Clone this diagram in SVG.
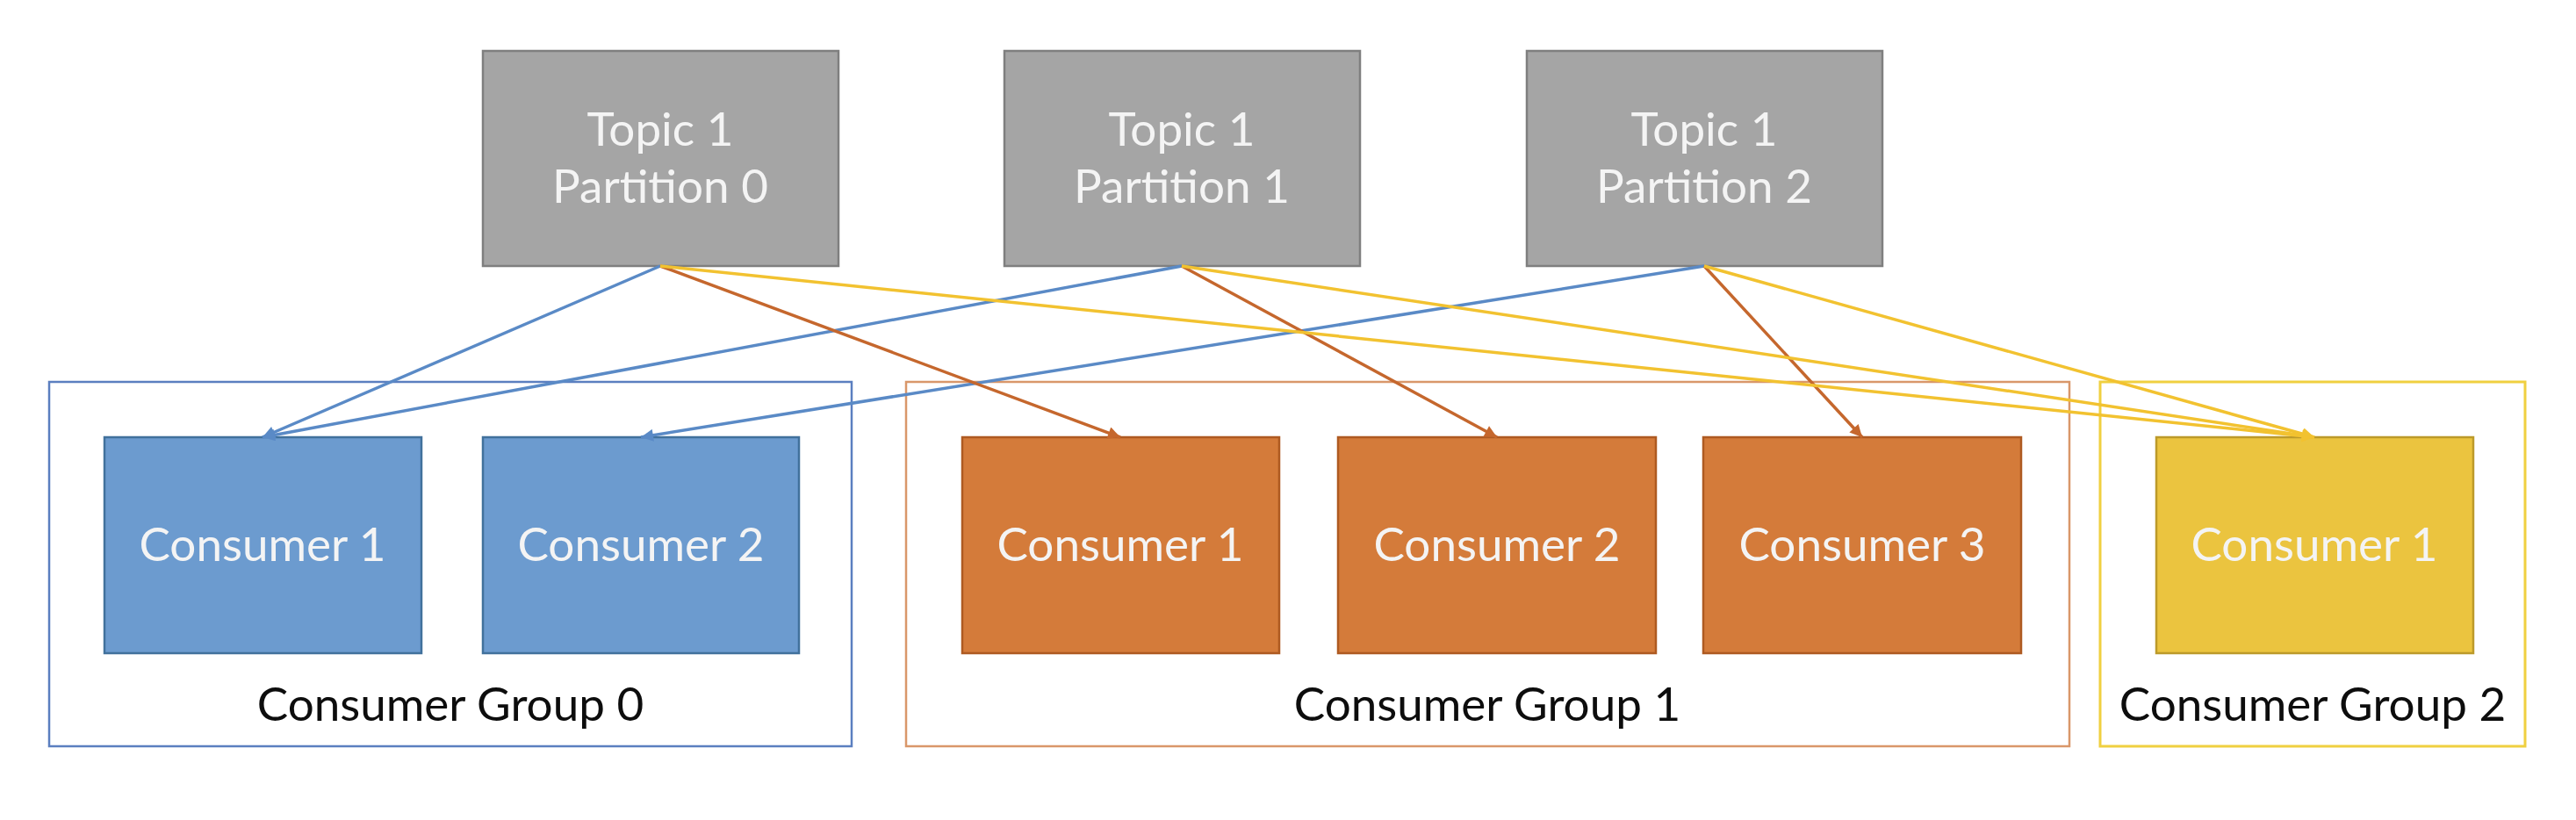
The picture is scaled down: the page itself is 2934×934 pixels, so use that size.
<svg xmlns="http://www.w3.org/2000/svg" width="2934" height="934" viewBox="0 0 2934 934">
  <style>
    .txt { font-family: Lato, "Open Sans", "Liberation Sans", sans-serif; font-size: 53px; text-anchor: middle; }
    .light { fill: #F4F4F4; }
    .dark { fill: #0D0D0D; }
    .topic { fill: #A5A5A5; stroke: #7F7F7F; stroke-width: 2.5; }
    .blue { fill: #6C9BCF; stroke: #41719C; stroke-width: 2.5; }
    .orange { fill: #D47B3A; stroke: #AE5A21; stroke-width: 2.5; }
    .yellow { fill: #EBC43F; stroke: #BC9A2A; stroke-width: 2.5; }
    .g0 { fill: none; stroke: #5B7FC0; stroke-width: 2.5; }
    .g1 { fill: none; stroke: #D9976A; stroke-width: 2.5; }
    .g2 { fill: none; stroke: #F0D040; stroke-width: 3; }
    .lb { stroke: #5A8AC6; stroke-width: 3.5; fill: none; }
    .lo { stroke: #C5672D; stroke-width: 3.5; fill: none; }
    .ly { stroke: #F2C230; stroke-width: 3.5; fill: none; }
  </style>
  <defs>
    <marker id="ab" viewBox="0 0 10 10" refX="10" refY="5" markerUnits="userSpaceOnUse" markerWidth="18" markerHeight="14" orient="auto"><path d="M0,0 L10,5 L0,10 z" fill="#5A8AC6"/></marker>
    <marker id="ao" viewBox="0 0 10 10" refX="10" refY="5" markerUnits="userSpaceOnUse" markerWidth="18" markerHeight="14" orient="auto"><path d="M0,0 L10,5 L0,10 z" fill="#C5672D"/></marker>
    <marker id="ay" viewBox="0 0 10 10" refX="10" refY="5" markerUnits="userSpaceOnUse" markerWidth="18" markerHeight="14" orient="auto"><path d="M0,0 L10,5 L0,10 z" fill="#F2C230"/></marker>
  </defs>
  <rect width="2934" height="934" fill="#FFFFFF"/>

  <g id="group0">
    <rect class="g0" x="56" y="435" width="914" height="415"/>
    <text class="txt dark" x="513" y="821">Consumer Group 0</text>
  </g>
  <g id="group1">
    <rect class="g1" x="1032" y="435" width="1325" height="415"/>
    <text class="txt dark" x="1694" y="821">Consumer Group 1</text>
  </g>
  <g id="group2">
    <rect class="g2" x="2392" y="435" width="484" height="415"/>
    <text class="txt dark" x="2634" y="821">Consumer Group 2</text>
  </g>

  <g id="p0">
    <rect class="topic" x="550" y="58" width="405" height="245"/>
    <text class="txt light" x="752" y="166">Topic 1</text>
    <text class="txt light" x="752" y="231">Partition 0</text>
  </g>
  <g id="p1">
    <rect class="topic" x="1144" y="58" width="405" height="245"/>
    <text class="txt light" x="1346" y="166">Topic 1</text>
    <text class="txt light" x="1346" y="231">Partition 1</text>
  </g>
  <g id="p2">
    <rect class="topic" x="1739" y="58" width="405" height="245"/>
    <text class="txt light" x="1941" y="166">Topic 1</text>
    <text class="txt light" x="1941" y="231">Partition 2</text>
  </g>

  <g id="g0c1">
    <rect class="blue" x="119" y="498" width="361" height="246"/>
    <text class="txt light" x="299" y="639">Consumer 1</text>
  </g>
  <g id="g0c2">
    <rect class="blue" x="550" y="498" width="360" height="246"/>
    <text class="txt light" x="730" y="639">Consumer 2</text>
  </g>
  <g id="g1c1">
    <rect class="orange" x="1096" y="498" width="361" height="246"/>
    <text class="txt light" x="1276" y="639">Consumer 1</text>
  </g>
  <g id="g1c2">
    <rect class="orange" x="1524" y="498" width="362" height="246"/>
    <text class="txt light" x="1705" y="639">Consumer 2</text>
  </g>
  <g id="g1c3">
    <rect class="orange" x="1940" y="498" width="362" height="246"/>
    <text class="txt light" x="2121" y="639">Consumer 3</text>
  </g>
  <g id="g2c1">
    <rect class="yellow" x="2456" y="498" width="361" height="246"/>
    <text class="txt light" x="2636" y="639">Consumer 1</text>
  </g>

  <g id="connectors">
    <line class="lb" x1="752" y1="303" x2="299" y2="498" marker-end="url(#ab)"/>
    <line class="lb" x1="1346" y1="303" x2="299" y2="498" marker-end="url(#ab)"/>
    <line class="lb" x1="1941" y1="303" x2="730" y2="498" marker-end="url(#ab)"/>
    <line class="lo" x1="752" y1="303" x2="1276" y2="498" marker-end="url(#ao)"/>
    <line class="lo" x1="1346" y1="303" x2="1705" y2="498" marker-end="url(#ao)"/>
    <line class="lo" x1="1941" y1="303" x2="2121" y2="498" marker-end="url(#ao)"/>
    <line class="ly" x1="752" y1="303" x2="2636" y2="498" marker-end="url(#ay)"/>
    <line class="ly" x1="1346" y1="303" x2="2636" y2="498" marker-end="url(#ay)"/>
    <line class="ly" x1="1941" y1="303" x2="2636" y2="498" marker-end="url(#ay)"/>
  </g>
</svg>
